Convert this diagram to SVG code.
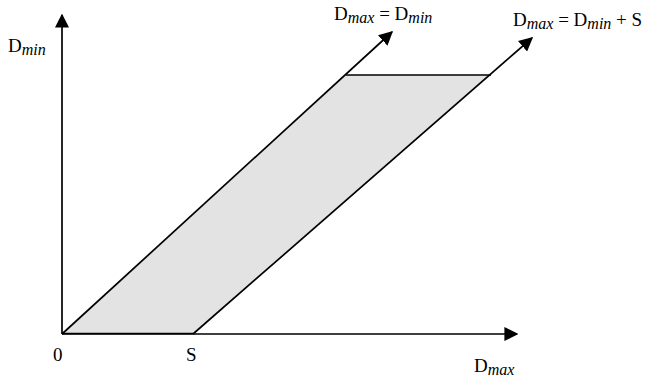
<svg xmlns="http://www.w3.org/2000/svg" width="651" height="382" viewBox="0 0 651 382">
<style>
text{font-family:"Liberation Serif","Times New Roman",serif;font-size:19px;fill:#000}
.sub{font-style:italic;font-size:16px}
.ln{stroke:#000;stroke-width:1.7;fill:none}
</style>
<defs>
<marker id="ahb" viewBox="0 0 10 10" refX="9" refY="5" markerWidth="14" markerHeight="14" markerUnits="userSpaceOnUse" orient="auto">
<path d="M0,0 L10,5 L0,10 z" fill="#000"/>
</marker>
</defs>
<g id="region">
<polygon points="62,334 346,75 491,75 193,334" fill="#e3e3e3" stroke="none"/>
</g>
<g id="connectors">
<line class="ln" x1="62" y1="334" x2="62" y2="15" marker-end="url(#ahb)"/>
<line class="ln" x1="62" y1="334" x2="517" y2="334" marker-end="url(#ahb)"/>
<line class="ln" x1="62" y1="334" x2="392" y2="32" marker-end="url(#ahb)"/>
<line class="ln" x1="193" y1="334" x2="532" y2="38" marker-end="url(#ahb)"/>
<line class="ln" x1="346" y1="75" x2="491" y2="75"/>
<line class="ln" x1="62" y1="333.5" x2="193" y2="333.5" stroke-width="2.3"/>
</g>
<g id="labels">
<text x="8" y="52">D<tspan class="sub" dy="3">min</tspan></text>
<text x="53" y="361">0</text>
<text x="186" y="361">S</text>
<text x="474" y="372">D<tspan class="sub" dy="3">max</tspan></text>
<text x="334" y="20">D<tspan class="sub" dy="3">max</tspan><tspan dy="-3"> = D</tspan><tspan class="sub" dy="3">min</tspan></text>
<text x="513" y="26">D<tspan class="sub" dy="3">max</tspan><tspan dy="-3"> = D</tspan><tspan class="sub" dy="3">min</tspan><tspan dy="-3"> + S</tspan></text>
</g>
</svg>
